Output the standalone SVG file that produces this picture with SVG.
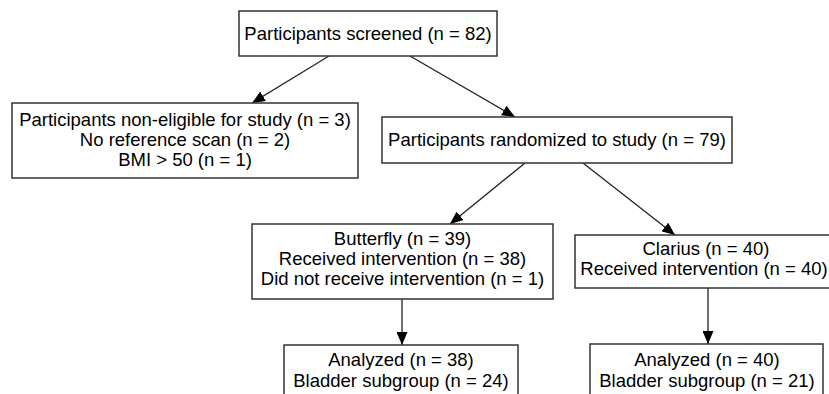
<svg xmlns="http://www.w3.org/2000/svg" width="829" height="394" viewBox="0 0 829 394">
<defs>
<style>
.box{fill:#fff;stroke:#333;stroke-width:1.5}
.t{font-family:"Liberation Sans",Arial,sans-serif;font-size:18.5px;fill:#000;text-anchor:middle}
.c{stroke:#222;stroke-width:1.3;fill:none;marker-end:url(#ah)}
</style>
<marker id="ah" viewBox="0 0 13 11" refX="13" refY="5.5" markerWidth="13" markerHeight="11" markerUnits="userSpaceOnUse" orient="auto">
<path d="M0,0 L13,5.5 L0,11 Z" fill="#000"/>
</marker>
</defs>
<rect width="829" height="394" fill="#fff"/>
<g id="connectors">
<line class="c" x1="329" y1="56" x2="252" y2="103"/>
<line class="c" x1="410" y1="56" x2="515" y2="117"/>
<line class="c" x1="525" y1="163" x2="450" y2="224"/>
<line class="c" x1="583" y1="163" x2="675" y2="235"/>
<line class="c" x1="402" y1="299" x2="402" y2="345"/>
<line class="c" x1="708" y1="288" x2="708" y2="344"/>
</g>
<g id="screened">
<rect class="box" x="239" y="11" width="258" height="45"/>
<text class="t" x="368" y="40">Participants screened (n = 82)</text>
</g>
<g id="noneligible">
<rect class="box" x="12" y="103" width="346" height="75"/>
<text class="t" x="185" y="126">Participants non-eligible for study (n = 3)</text>
<text class="t" x="185" y="146">No reference scan (n = 2)</text>
<text class="t" x="185" y="166">BMI &gt; 50 (n = 1)</text>
</g>
<g id="randomized">
<rect class="box" x="382" y="117" width="350" height="46"/>
<text class="t" x="557" y="146">Participants randomized to study (n = 79)</text>
</g>
<g id="butterfly">
<rect class="box" x="252" y="224" width="301" height="75"/>
<text class="t" x="402.5" y="245">Butterfly (n = 39)</text>
<text class="t" x="402.5" y="265">Received intervention (n = 38)</text>
<text class="t" x="402.5" y="285">Did not receive intervention (n = 1)</text>
</g>
<g id="clarius">
<rect class="box" x="575" y="235" width="264" height="53"/>
<text class="t" x="706" y="255">Clarius (n = 40)</text>
<text class="t" x="704" y="275">Received intervention (n = 40)</text>
</g>
<g id="analyzed1">
<rect class="box" x="284" y="345" width="234" height="60"/>
<text class="t" x="401" y="366">Analyzed (n = 38)</text>
<text class="t" x="401" y="387">Bladder subgroup (n = 24)</text>
</g>
<g id="analyzed2">
<rect class="box" x="590" y="344" width="233" height="60"/>
<text class="t" x="707" y="366">Analyzed (n = 40)</text>
<text class="t" x="707" y="387">Bladder subgroup (n = 21)</text>
</g>
</svg>
